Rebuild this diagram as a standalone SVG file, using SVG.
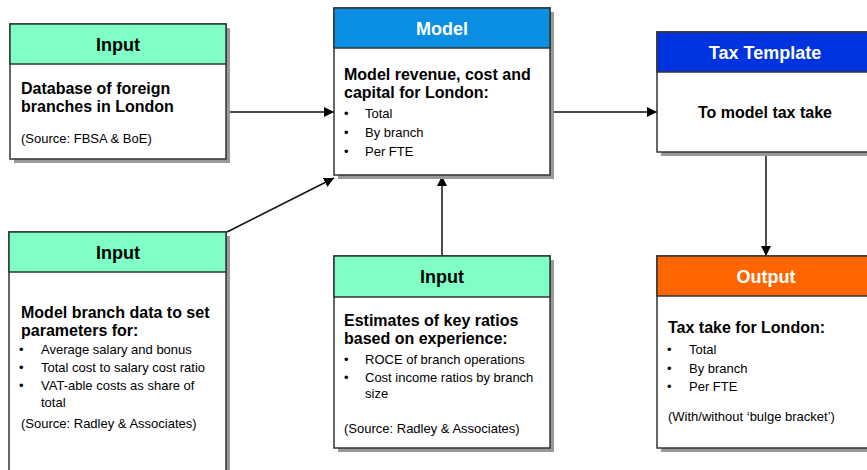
<svg xmlns="http://www.w3.org/2000/svg" width="867" height="470" viewBox="0 0 867 470">
<defs>
<marker id="ah" viewBox="0 0 10 10" refX="10" refY="5" markerWidth="10" markerHeight="10" markerUnits="userSpaceOnUse" orient="auto">
<path d="M0,0 L10,5 L0,10 Z" fill="#000"/>
</marker>
</defs>
<style>
.sh{fill:#999}
.box{fill:#fff;stroke:#333;stroke-width:1.5}
.hdr{stroke:#333;stroke-width:1.5}
.in{fill:#7FFFC6}
.mo{fill:#0A8FE2}
.tx{fill:#0033E0}
.ou{fill:#FF6600}
text{font-family:"Liberation Sans",Arial,sans-serif}
.ht{font-size:18px;font-weight:bold;text-anchor:middle;fill:#000}
.hw{font-size:18px;font-weight:bold;text-anchor:middle;fill:#fff}
.b{font-size:16px;font-weight:bold;fill:#000}
.r{font-size:13px;fill:#000}
.c{stroke:#111;stroke-width:1.5;fill:none;marker-end:url(#ah)}
</style>
<g id="connectors">
<line class="c" x1="227" y1="112" x2="334" y2="112"/>
<line class="c" x1="227" y1="232" x2="334" y2="178"/>
<line class="c" x1="442" y1="257" x2="442" y2="176"/>
<line class="c" x1="550" y1="112" x2="657" y2="112"/>
<line class="c" x1="766" y1="153" x2="766" y2="256"/>
</g>
<g id="input1">
<rect class="sh" x="14" y="28" width="216" height="135"/>
<rect class="box" x="10" y="24" width="216" height="135"/>
<rect class="in hdr" x="10" y="24" width="216" height="40"/>
<text class="ht" x="118" y="51">Input</text>
<text class="b" x="21" y="94">Database of foreign</text>
<text class="b" x="21" y="112">branches in London</text>
<text class="r" x="21" y="143">(Source: FBSA &amp; BoE)</text>
</g>
<g id="model">
<rect class="sh" x="338" y="12" width="216" height="167"/>
<rect class="box" x="334" y="8" width="216" height="167"/>
<rect class="mo hdr" x="334" y="8" width="216" height="40"/>
<text class="hw" x="442" y="35">Model</text>
<text class="b" x="344" y="80">Model revenue, cost and</text>
<text class="b" x="344" y="98">capital for London:</text>
<text class="r" x="344" y="118">•</text><text class="r" x="365" y="118">Total</text>
<text class="r" x="344" y="137">•</text><text class="r" x="365" y="137">By branch</text>
<text class="r" x="344" y="156">•</text><text class="r" x="365" y="156">Per FTE</text>
</g>
<g id="taxtemplate">
<rect class="sh" x="661" y="36" width="216" height="120"/>
<rect class="box" x="657" y="32" width="216" height="120"/>
<rect class="tx hdr" x="657" y="32" width="216" height="40"/>
<text class="hw" x="765" y="59">Tax Template</text>
<text class="b" x="765" y="118" text-anchor="middle">To model tax take</text>
</g>
<g id="input2">
<rect class="sh" x="13" y="236" width="217" height="250"/>
<rect class="box" x="9" y="232" width="217" height="250"/>
<rect class="in hdr" x="9" y="232" width="217" height="40"/>
<text class="ht" x="118" y="259">Input</text>
<text class="b" x="21" y="318">Model branch data to set</text>
<text class="b" x="21" y="336">parameters for:</text>
<text class="r" x="19" y="354">•</text><text class="r" x="41" y="354">Average salary and bonus</text>
<text class="r" x="19" y="372">•</text><text class="r" x="41" y="372">Total cost to salary cost ratio</text>
<text class="r" x="19" y="390">•</text><text class="r" x="41" y="390">VAT-able costs as share of</text>
<text class="r" x="41" y="407">total</text>
<text class="r" x="21" y="428">(Source: Radley &amp; Associates)</text>
</g>
<g id="input3">
<rect class="sh" x="338" y="260" width="216" height="192"/>
<rect class="box" x="334" y="256" width="216" height="192"/>
<rect class="in hdr" x="334" y="256" width="216" height="41"/>
<text class="ht" x="442" y="283">Input</text>
<text class="b" x="344" y="326">Estimates of key ratios</text>
<text class="b" x="344" y="344">based on experience:</text>
<text class="r" x="344" y="364">•</text><text class="r" x="365" y="364">ROCE of branch operations</text>
<text class="r" x="344" y="382">•</text><text class="r" x="365" y="382">Cost income ratios by branch</text>
<text class="r" x="365" y="398">size</text>
<text class="r" x="344" y="433">(Source: Radley &amp; Associates)</text>
</g>
<g id="output">
<rect class="sh" x="661" y="260" width="216" height="192"/>
<rect class="box" x="657" y="256" width="216" height="192"/>
<rect class="ou hdr" x="657" y="256" width="216" height="40"/>
<text class="hw" x="766" y="283">Output</text>
<text class="b" x="668" y="333">Tax take for London:</text>
<text class="r" x="667" y="354">•</text><text class="r" x="689" y="354">Total</text>
<text class="r" x="667" y="373">•</text><text class="r" x="689" y="373">By branch</text>
<text class="r" x="667" y="391">•</text><text class="r" x="689" y="391">Per FTE</text>
<text class="r" x="668" y="421">(With/without ‘bulge bracket’)</text>
</g>
</svg>
